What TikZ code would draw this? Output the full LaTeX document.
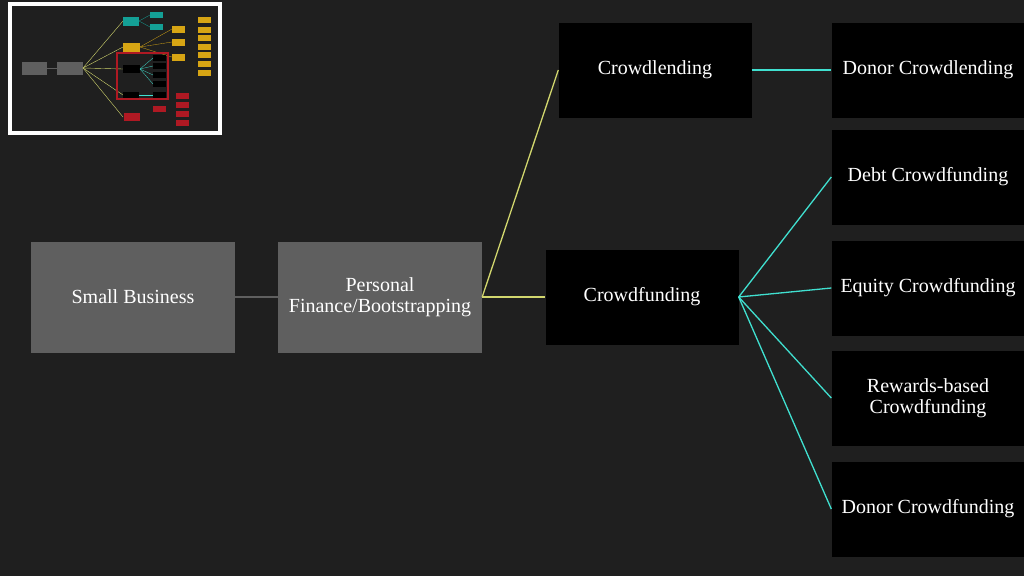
\documentclass[tikz,border=0pt]{standalone}
\usepackage{fontspec}
\setmainfont{Liberation Serif}
\definecolor{bg}{RGB}{31,31,31}
\definecolor{greybox}{RGB}{95,95,95}
\definecolor{gelblinie}{RGB}{210,215,110}
\definecolor{tuerkis}{RGB}{64,224,208}
\definecolor{tteal}{RGB}{20,160,150}
\definecolor{tgelb}{RGB}{215,165,20}
\definecolor{trot}{RGB}{175,25,35}
\tikzset{
  box/.style={draw=none, minimum width=193pt, minimum height=95pt, text=white, font=\fontsize{20}{21}\selectfont, align=center},
  grau/.style={box, fill=greybox, minimum width=204pt, minimum height=111pt},
  schwarz/.style={box, fill=black},
  kante/.style={line width=1.3pt},
}
\begin{document}
\begin{tikzpicture}[x=1pt, y=-1pt]
	\fill[bg] (0,0) rectangle (1024,576);
	\useasboundingbox (0,0) rectangle (1024,576);

	% Vorschau
	\draw[white, line width=4pt, fill=bg] (10,4) rectangle (220,133);
	\coordinate (PFr) at (83,68);
	\fill[greybox] (22,62) rectangle (47,75);
	\fill[greybox] (57,62) rectangle (83,75);
	\draw[greybox, line width=0.4pt] (47,68) -- (57,68);
	\foreach \y in {21,47,69,95,117} \draw[gelblinie, line width=0.4pt] (PFr) -- (123,\y);
	\fill[tteal] (123,17) rectangle (139,26);
	\foreach \y in {12,24} {\fill[tteal] (150,\y) rectangle (163,\y+6); \draw[tteal, line width=0.3pt] (139,21) -- (150,\y+3);}
	\fill[tgelb] (123,43) rectangle (140,52);
	\foreach \y in {26,39,54} {\fill[tgelb] (172,\y) rectangle (185,\y+7); \draw[tgelb, line width=0.3pt] (140,47) -- (172,\y+3);}
	\foreach \y in {17,27,35,44,52,61,70} \fill[tgelb] (198,\y) rectangle (211,\y+6);
	\fill[black] (123,65) rectangle (140,73);
	\foreach \y in {55,63,72,81} {\fill[black] (153,\y) rectangle (166,\y+6); \draw[tuerkis, line width=0.3pt] (140,69) -- (153,\y+3);}
	\fill[black] (153,92) rectangle (166,98);
	\fill[black] (123,92) rectangle (139,98);
	\draw[tuerkis, line width=0.3pt] (139,95) -- (153,95);
	\draw[trot, line width=1.2pt] (117,53) rectangle (168,99);
	\fill[trot] (124,113) rectangle (140,121);
	\fill[trot] (153,106) rectangle (166,112);
	\foreach \y in {93,102,111,120} \fill[trot] (176,\y) rectangle (189,\y+6);

	% Hauptbaum
	\node[grau] (SB) at (133,297) {Small Business};
	\node[grau] (PF) at (380,297) {Personal\\Finance/Bootstrapping};
	\node[schwarz] (CL) at (655,70) {Crowdlending};
	\node[schwarz] (CF) at (642,297) {Crowdfunding};
	\node[schwarz] (DCL) at (928,70) {Donor Crowdlending};
	\node[schwarz] (DebtCF) at (928,177) {Debt Crowdfunding};
	\node[schwarz] (EqCF) at (928,288) {Equity Crowdfunding};
	\node[schwarz] (RwCF) at (928,398) {Rewards-based\\Crowdfunding};
	\node[schwarz] (DoCF) at (928,509) {Donor Crowdfunding};

	\draw[greybox, kante] (SB) -- (PF);
	\draw[gelblinie, kante] (PF.east) -- (CL.west);
	\draw[gelblinie, kante] (PF.east) -- (CF.west);
	\draw[tuerkis, kante] (CL.east) -- (DCL.west);
	\foreach \z in {DebtCF, EqCF, RwCF, DoCF}
		\draw[tuerkis, kante] (CF.east) -- (\z.west);
\end{tikzpicture}
\end{document}
